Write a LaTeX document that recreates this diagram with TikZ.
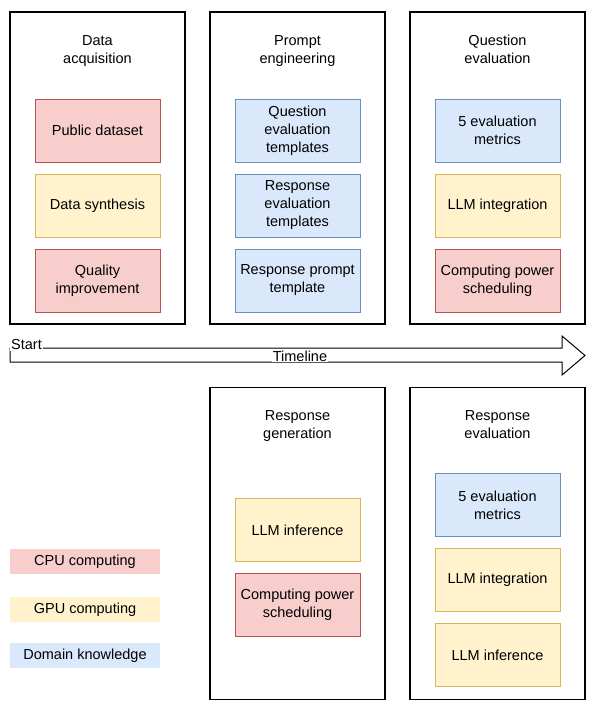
\documentclass[tikz,border=0pt]{standalone}
\usepackage{fontspec}
\setmainfont{Liberation Sans}
\usetikzlibrary{positioning}
\definecolor{CpuFill}{HTML}{F8CECC}
\definecolor{CpuLine}{HTML}{B85450}
\definecolor{GpuFill}{HTML}{FFF2CC}
\definecolor{GpuLine}{HTML}{D6B656}
\definecolor{DomFill}{HTML}{DAE8FC}
\definecolor{DomLine}{HTML}{6C8EBF}

\begin{document}
\begin{tikzpicture}[x=1pt, y=-1pt, node distance=12pt,
    every node/.style={font=\fontsize{14.5}{18}\selectfont},
    stage/.style={draw, line width=1.2pt, minimum width=175pt, minimum height=312pt, inner sep=0pt, outer sep=0pt},
    title/.style={align=center, inner sep=0pt, anchor=base},
    task/.style={draw, line width=1pt, align=center, minimum width=125pt, minimum height=63pt, inner sep=2pt, outer sep=0pt},
    cpu/.style={task, fill=CpuFill, draw=CpuLine},
    gpu/.style={task, fill=GpuFill, draw=GpuLine},
    dom/.style={task, fill=DomFill, draw=DomLine},
    legend/.style={minimum width=150pt, minimum height=25pt, inner sep=0pt}]
    \useasboundingbox (0,0) rectangle (595,707);

    % top row of stages
    \node[stage] (acq) at (97.5,168) {};
    \node[stage, right=25pt of acq] (prompt) {};
    \node[stage, right=25pt of prompt] (qeval) {};
    \node[title] (acqT) at ([yshift=-51.5pt]acq.north) {Data\\acquisition};
    \node[title] (promptT) at ([yshift=-51.5pt]prompt.north) {Prompt\\engineering};
    \node[title] (qevalT) at ([yshift=-51.5pt]qeval.north) {Question\\evaluation};

    \node[cpu, below=87pt of acq.north] (public) {Public dataset};
    \node[gpu, below=of public] (synth) {Data synthesis};
    \node[cpu, below=of synth] (quality) {Quality\\improvement};

    \node[dom, below=87pt of prompt.north] (qtmpl) {Question\\evaluation\\templates};
    \node[dom, below=of qtmpl] (rtmpl) {Response\\evaluation\\templates};
    \node[dom, below=of rtmpl] (ptmpl) {Response prompt\\template};

    \node[dom, below=87pt of qeval.north] (qmetric) {5 evaluation\\metrics};
    \node[gpu, below=of qmetric] (qllm) {LLM integration};
    \node[cpu, below=of qllm] (qsched) {Computing power\\scheduling};

    % timeline
    \draw[line width=1pt] (10,348) -- (562,348) -- (562,336) -- (585,355.5)
        -- (562,375) -- (562,362) -- (10,362) -- cycle;
    \node[fill=white, inner sep=1pt, anchor=west] (start) at (10,345) {Start};
    \node[fill=white, inner sep=1pt] (timeline) at (300,356) {Timeline};

    % bottom row of stages
    \node[stage] (rgen) at (297.5,543.5) {};
    \node[stage, right=25pt of rgen] (reval) {};
    \node[title] (rgenT) at ([yshift=-50.5pt]rgen.north) {Response\\generation};
    \node[title] (revalT) at ([yshift=-50.5pt]reval.north) {Response\\evaluation};

    \node[gpu, below=111pt of rgen.north] (rinfer) {LLM inference};
    \node[cpu, below=of rinfer] (rsched) {Computing power\\scheduling};

    \node[dom, below=86pt of reval.north] (rmetric) {5 evaluation\\metrics};
    \node[gpu, below=of rmetric] (rllm) {LLM integration};
    \node[gpu, below=of rllm] (rinfer2) {LLM inference};

    % legend
    \node[legend, fill=CpuFill] (cpuKey) at (85,561.5) {CPU computing};
    \node[legend, fill=GpuFill] (gpuKey) at (85,609.5) {GPU computing};
    \node[legend, fill=DomFill] (domKey) at (85,655.5) {Domain knowledge};
\end{tikzpicture}
\end{document}
